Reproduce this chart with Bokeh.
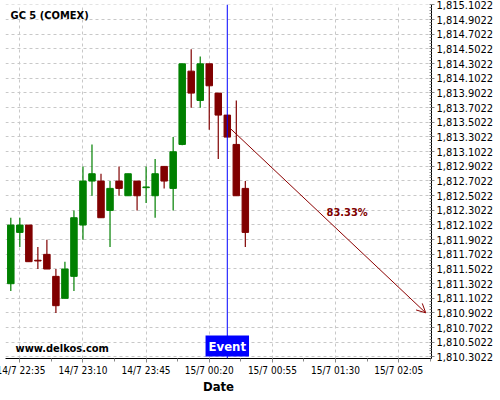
import numpy as np
from bokeh.plotting import figure
from bokeh.models import (ColumnDataSource, FixedTicker, NumeralTickFormatter, Label,
                          Span, Arrow, OpenHead, Range1d)
from bokeh.embed import file_html
from bokeh.resources import INLINE

# ---------------- data ----------------
chart_title = "GC 5 (COMEX)"
watermark = "www.delkos.com"
times = ["14/7 22:30", "14/7 22:35", "14/7 22:40", "14/7 22:45", "14/7 22:50", "14/7 22:55",
         "14/7 23:00", "14/7 23:05", "14/7 23:10", "14/7 23:15", "14/7 23:20", "14/7 23:25",
         "14/7 23:30", "14/7 23:35", "14/7 23:40", "14/7 23:45", "14/7 23:50", "14/7 23:55",
         "15/7 00:00", "15/7 00:05", "15/7 00:10", "15/7 00:15", "15/7 00:20", "15/7 00:25",
         "15/7 00:30", "15/7 00:35", "15/7 00:40"]
opens  = [1811.30, 1812.00, 1812.10, 1811.62, 1811.70, 1811.40, 1811.10, 1811.40, 1812.10,
          1812.70, 1812.70, 1812.30, 1812.70, 1812.50, 1812.70, 1812.61, 1812.50, 1812.90,
          1812.60, 1813.20, 1814.20, 1813.80, 1814.30, 1813.90, 1813.60, 1813.20, 1812.60]
highs  = [1812.20, 1812.20, 1812.10, 1811.80, 1811.90, 1811.50, 1811.60, 1812.30, 1812.90,
          1813.20, 1812.80, 1812.70, 1812.90, 1812.80, 1812.70, 1812.90, 1813.00, 1812.90,
          1813.30, 1814.30, 1814.50, 1814.40, 1814.30, 1813.90, 1813.60, 1813.80, 1812.70]
lows   = [1811.20, 1811.80, 1811.60, 1811.50, 1811.50, 1810.90, 1811.10, 1811.20, 1811.90,
          1812.50, 1812.20, 1811.80, 1812.50, 1812.50, 1812.30, 1812.40, 1812.20, 1812.60,
          1812.30, 1813.19, 1813.70, 1813.70, 1813.40, 1813.00, 1813.30, 1812.50, 1811.80]
closes = [1812.10, 1812.10, 1811.60, 1811.61, 1811.50, 1811.00, 1811.50, 1812.20, 1812.70,
          1812.80, 1812.20, 1812.60, 1812.60, 1812.80, 1812.50, 1812.62, 1812.80, 1812.70,
          1813.10, 1814.30, 1813.90, 1814.30, 1814.00, 1813.60, 1813.30, 1812.50, 1812.00]
x_tick_labels = ["14/7 22:35", "14/7 23:10", "14/7 23:45", "15/7 00:20",
                 "15/7 00:55", "15/7 01:30", "15/7 02:05"]
y_tick_first, y_tick_last, y_tick_step = 1810.3022, 1815.1022, 0.2
event_time = "15/7 00:30"
event_text = "Event"
arrow_start = ("15/7 00:32", 1813.41)
arrow_target = ("15/7 02:20", 1810.9022)
probability_text = "83.33%"
probability_pos = ("15/7 01:25", 1812.27)

FONT = "DejaVu Sans Condensed"


def to_min(s):
    d, t = s.split(" ")
    day = int(d.split("/")[0])
    h, m = t.split(":")
    return (day - 14) * 1440 + int(h) * 60 + int(m)


x = [to_min(t) for t in times]
up = [c >= o for o, c in zip(opens, closes)]
GREEN, RED = "#008000", "#800000"
colors = [GREEN if u else RED for u in up]
src = ColumnDataSource(dict(x=x, o=opens, h=highs, l=lows, c=closes,
                            top=[max(a, b) for a, b in zip(opens, closes)],
                            bot=[min(a, b) for a, b in zip(opens, closes)],
                            col=colors))

x_major = [to_min(s) for s in x_tick_labels]
x_minor = list(np.arange(x_major[0] - 35, x_major[-1] + 36, 17.5))
n_y = int(round((y_tick_last - y_tick_first) / y_tick_step)) + 1
y_major = [y_tick_first + i * y_tick_step for i in range(n_y)]
y_minor = [y_tick_first - y_tick_step + i * y_tick_step / 5 for i in range((n_y + 1) * 5 + 1)]

x0 = to_min("14/7 22:30")
p = figure(width=500, height=400, output_backend="svg", toolbar_location=None,
           y_axis_location="right",
           x_range=Range1d(x0 - 2.94, x0 + 233.2),
           y_range=Range1d(1810.2794, 1815.109),
           min_border_left=9, min_border_top=8, min_border_right=0, min_border_bottom=32)
p.styles = {"margin-left": "-4px", "margin-top": "-4px", "margin-bottom": "-4px"}
p.background_fill_color = "white"
p.border_fill_color = "white"
p.outline_line_color = None

# grid
p.xgrid.ticker = FixedTicker(ticks=x_major)
p.ygrid.ticker = FixedTicker(ticks=y_major)
for g in (p.xgrid, p.ygrid):
    g.grid_line_color = "#c8c8c8"
    g.grid_line_dash = "3 3"
    g.grid_line_width = 1

# x axis
xa = p.xaxis[0]
xa.ticker = FixedTicker(ticks=x_major, minor_ticks=x_minor)
xa.major_label_overrides = {int(v): lab for v, lab in zip(x_major, x_tick_labels)}
xa.major_label_text_font = FONT
xa.major_label_text_font_size = "10px"
xa.major_label_text_color = "black"
xa.major_label_standoff = 2
xa.major_tick_out = 4
xa.major_tick_in = 0
xa.minor_tick_out = 3
xa.minor_tick_in = 0
xa.axis_line_color = "black"
xa.major_tick_line_color = "#888888"
xa.minor_tick_line_color = "#888888"
xa.axis_label = "Date"
xa.axis_label_text_font = FONT
xa.axis_label_text_font_style = "bold"
xa.axis_label_text_font_size = "13px"
xa.axis_label_standoff = 0
xa.axis_label_text_color = "black"

# y axis
ya = p.yaxis[0]
ya.ticker = FixedTicker(ticks=y_major, minor_ticks=y_minor)
ya.formatter = NumeralTickFormatter(format="0,0.0000")
ya.major_label_text_font = FONT
ya.major_label_text_font_size = "11px"
ya.major_label_text_color = "black"
ya.major_label_standoff = 2
ya.major_tick_out = 3
ya.major_tick_in = 0
ya.minor_tick_in = 2
ya.minor_tick_out = 0
ya.axis_line_color = "black"
ya.major_tick_line_color = "#888888"
ya.minor_tick_line_color = "#888888"

# candles
p.segment(x0="x", y0="l", x1="x", y1="h", color="col", line_width=1.2, source=src)
p.vbar(x="x", width=3.6, top="top", bottom="bot", fill_color="col", line_color="col",
       line_width=1, source=src)

# event line
ev = to_min(event_time)
p.add_layout(Span(location=ev, dimension="height", line_color="#0000ff", line_width=1))

# arrow
p.add_layout(Arrow(end=OpenHead(size=9, line_color="#8b0000", line_width=1),
                   x_start=to_min(arrow_start[0]), y_start=arrow_start[1],
                   x_end=to_min(arrow_target[0]), y_end=arrow_target[1],
                   line_color="#8b0000", line_width=1))

p.add_layout(Label(x=to_min(probability_pos[0]), y=probability_pos[1], text=probability_text,
                   text_font=FONT, text_font_style="bold", text_font_size="11px",
                   text_color="#800000", text_align="left", text_baseline="middle"))

# event label box
p.add_layout(Label(x=ev, y=1810.2794, text=event_text, text_font=FONT,
                   text_font_style="bold", text_font_size="13px", text_color="white",
                   text_align="center", text_baseline="bottom",
                   background_fill_color="#0000ff", padding=3, y_offset=2))

# title and watermark
p.add_layout(Label(x=x0 - 0.15, y=1814.961, text=chart_title, text_font=FONT,
                   text_font_style="bold", text_font_size="11px", text_color="black",
                   text_align="left", text_baseline="middle"))
p.add_layout(Label(x=x0 + 2.6, y=1810.413, text=watermark, text_font=FONT,
                   text_font_style="bold", text_font_size="11px", text_color="black",
                   text_align="left", text_baseline="middle"))

open("out.html", "w").write(file_html(p, INLINE))
